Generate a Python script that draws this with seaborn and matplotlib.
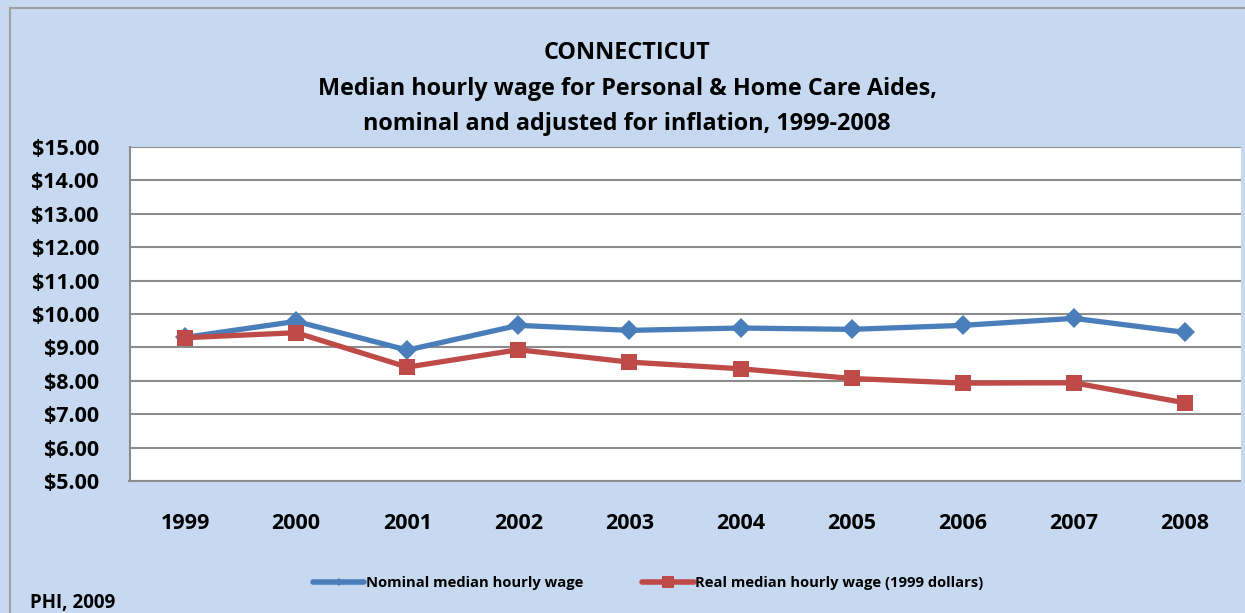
import matplotlib
matplotlib.use("Agg")
import matplotlib.pyplot as plt
import seaborn as sns
import pandas as pd
from matplotlib.patches import Rectangle

years = [1999, 2000, 2001, 2002, 2003, 2004, 2005, 2006, 2007, 2008]
nominal = [9.30, 9.78, 8.92, 9.66, 9.51, 9.58, 9.54, 9.66, 9.87, 9.45]
real = [9.29, 9.44, 8.41, 8.93, 8.56, 8.36, 8.07, 7.93, 7.94, 7.34]
series_names = ["Nominal median hourly wage", "Real median hourly wage (1999 dollars)"]
y_ticks = [5, 6, 7, 8, 9, 10, 11, 12, 13, 14, 15]
title_lines = ["CONNECTICUT",
               "Median hourly wage for Personal & Home Care Aides,",
               "nominal and adjusted for inflation, 1999-2008"]
source = "PHI, 2009"

df = pd.DataFrame({
    "year": years * 2,
    "wage": nominal + real,
    "series": [series_names[0]] * len(years) + [series_names[1]] * len(years),
})

sns.set_theme(style="white")
plt.rcParams["font.family"] = ["Open Sans", "DejaVu Sans"]
plt.rcParams["font.weight"] = "bold"
plt.rcParams["text.color"] = "black"

BG = "#C6D9F0"
fig = plt.figure(figsize=(12.45, 6.13), dpi=100, facecolor=BG)
W, H = 1245, 613
fig.patches.append(Rectangle((10 / W, -0.1), 1.2, 1 - 8 / H + 0.1, transform=fig.transFigure,
                             fill=False, edgecolor="#A0A0A0", linewidth=1.5))
ax = fig.add_axes([129.5 / W, 1 - 481 / H, (1240.5 - 129.5) / W, (481 - 147) / H])
ax.set_facecolor("white")

palette = {series_names[0]: "#4A7EBB", series_names[1]: "#BE4B48"}
markers = {series_names[0]: "D", series_names[1]: "s"}
sns.lineplot(data=df, x="year", y="wage", hue="series", style="series",
             palette=palette, markers=markers, dashes=False, linewidth=3.8,
             markersize=11.5, markeredgewidth=0, ax=ax, legend=True)
for line in ax.lines:
    if line.get_marker() == "D":
        line.set_markersize(10.5)

ax.set_xlim(1998.5, 2008.5)
ax.set_ylim(5, 15)
ax.set_xticks(years)
ax.set_xticklabels([str(y) for y in years])
ax.set_yticks(y_ticks)
ax.set_yticklabels([f"${v:.2f}" for v in y_ticks])
ax.yaxis.grid(True, color="#8C8C8C", linewidth=1.5)
ax.xaxis.grid(False)
ax.set_axisbelow(True)
ax.tick_params(axis="both", length=0, labelsize=15.5)
ax.tick_params(axis="y", pad=22)
ax.tick_params(axis="x", pad=23)
for lbl in ax.get_xticklabels() + ax.get_yticklabels():
    lbl.set_fontweight("bold")
    lbl.set_color("black")
ax.set_xlabel("")
ax.set_ylabel("")
for s in ["left", "bottom"]:
    ax.spines[s].set_color("#8C8C8C")
    ax.spines[s].set_linewidth(1.5)
for s in ["top", "right"]:
    ax.spines[s].set_visible(False)

handles, labels = ax.get_legend_handles_labels()
ax.get_legend().remove()
for h in handles:
    h.set_markersize(8 if h.get_marker() == "s" else 4.5)
    h.set_linewidth(4)
leg = fig.legend(handles, labels, loc="center", bbox_to_anchor=(648 / W, 1 - 583 / H), ncol=2,
                 frameon=False, handlelength=3.5, columnspacing=4.0,
                 handletextpad=0.1, prop={"weight": "bold", "size": 10.6})

ys = [53, 89, 124]
for t, y in zip(title_lines, ys):
    fig.text(627 / W, 1 - y / H, t, ha="center", va="center", fontsize=16.8, fontweight="bold",
             color="black")
fig.text(30 / W, 1 - 603 / H, source, ha="left", va="center", fontsize=13.5, fontweight="bold",
         color="black")

fig.savefig("out.png", dpi=100, facecolor=BG)
